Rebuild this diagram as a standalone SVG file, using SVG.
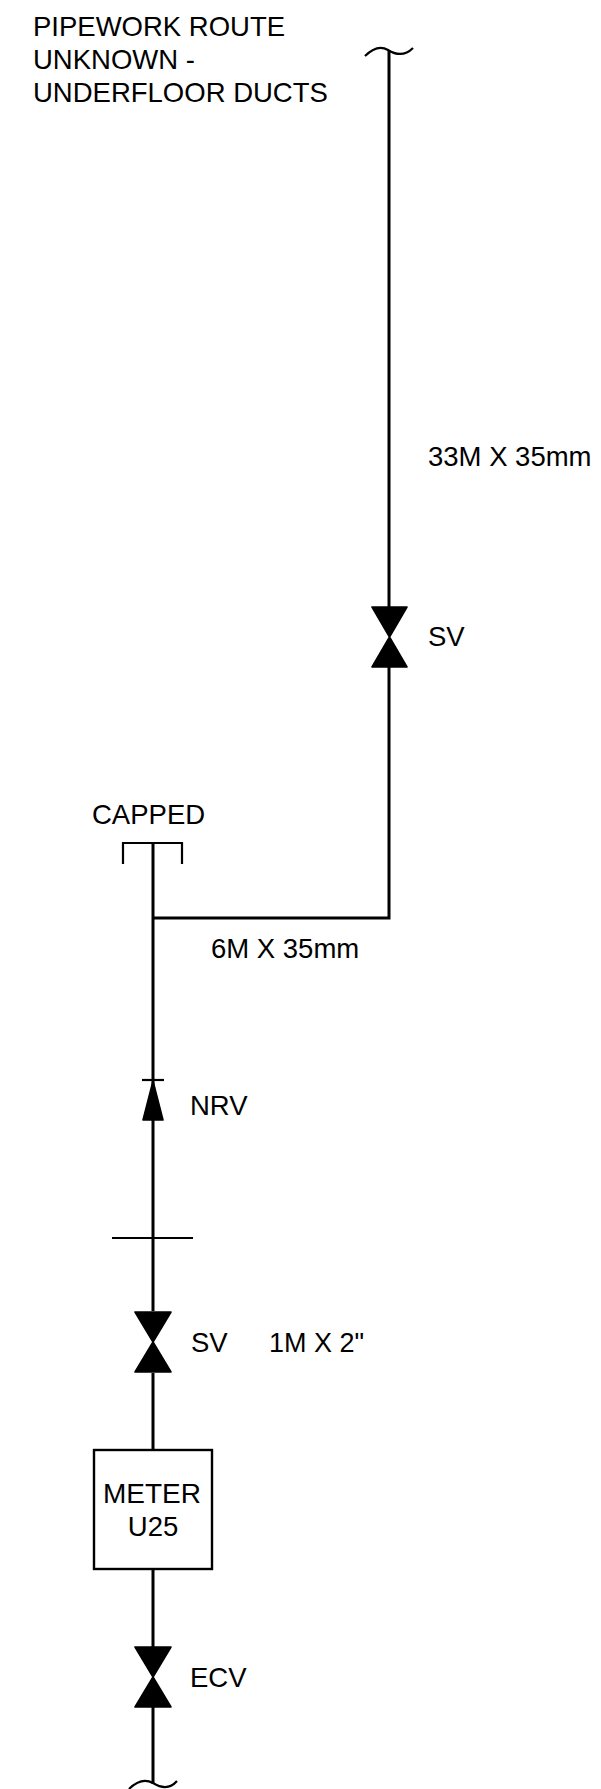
<svg xmlns="http://www.w3.org/2000/svg" width="601" height="1789" viewBox="0 0 601 1789">
<style>
text{font-family:"Liberation Sans",Arial,sans-serif;font-size:27.5px;fill:#000}
.p{fill:none;stroke:#000;stroke-width:3}
.t{fill:none;stroke:#000;stroke-width:2.2}
.v{fill:#000;stroke:#000;stroke-width:1.6;stroke-linejoin:round}
.m{text-anchor:middle}
</style>
<rect width="601" height="1789" fill="#fff"/>
<g id="connectors">
<path class="p" d="M389 50V607M389 667V918H153M153 843V1311M153 1373V1450M153 1569V1647M153 1707V1784"/>
</g>
<g id="break-top"><path class="t" d="M365 56C372 49 380 45 388 50C396 55 405 56 413 48"/></g>
<g id="break-bottom"><path class="t" d="M129 1789C136 1782 144 1778 153 1783C161 1788 170 1789 177 1781"/></g>
<g id="note"><text x="33" y="35.5">PIPEWORK ROUTE</text><text x="33" y="68.5">UNKNOWN -</text><text x="33" y="102">UNDERFLOOR DUCTS</text></g>
<g id="pipe-label-33m"><text x="428" y="465.5">33M X 35mm</text></g>
<g id="sv-upper"><path class="v" d="M372 607H407L372 667H407Z"/><text x="428" y="645.5">SV</text></g>
<g id="cap"><path class="t" d="M123 864V843H182V864"/><text x="92" y="823.5">CAPPED</text></g>
<g id="pipe-label-6m"><text x="211" y="958">6M X 35mm</text></g>
<g id="nrv"><path class="v" d="M153 1081L163 1120H143Z"/><path class="t" d="M142 1080H164"/><text x="190" y="1114.5">NRV</text></g>
<g id="break-flange"><path class="t" d="M112 1238H193"/></g>
<g id="sv-lower"><path class="v" d="M135 1312H171L135 1372H171Z"/><text x="191" y="1352">SV</text><text x="269" y="1352" font-size="27" style="font-size:27px">1M X 2"</text></g>
<g id="meter"><rect x="94" y="1450" width="118" height="119" fill="#fff" stroke="#000" stroke-width="2.4"/><text class="m" x="152" y="1503" style="font-size:28px">METER</text><text class="m" x="153" y="1535.5">U25</text></g>
<g id="ecv"><path class="v" d="M135 1647H171L135 1707H171Z"/><text x="190" y="1686.5">ECV</text></g>
</svg>
